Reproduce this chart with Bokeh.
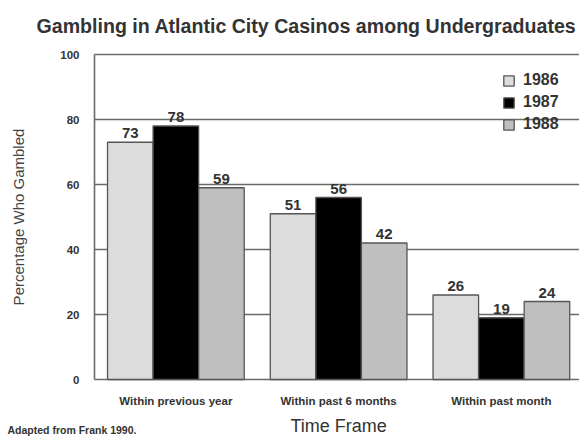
from bokeh.plotting import figure
from bokeh.models import Range1d, Legend, LegendItem, Label, ColumnDataSource, FixedTicker
from bokeh.core.properties import value
from bokeh.embed import file_html
from bokeh.resources import INLINE

categories = ["Within previous year", "Within past 6 months", "Within past month"]
years = ["1986", "1987", "1988"]
v1986 = [73, 51, 26]
v1987 = [78, 56, 19]
v1988 = [59, 42, 24]
y_ticks = [0, 20, 40, 60, 80, 100]

FONT = "Liberation Sans"
W, H = 579, 436
# plot-area geometry in pixels (frame covers whole canvas)
LEFT, TOP, BOTTOM, CAT_W = 94, 54, 379, 162.75
PX_PER_UNIT = (BOTTOM - TOP) / 100.0

xs = [i + 0.5 for i in range(len(categories))]   # category centres on the scale

p = figure(width=W, height=H,
           x_range=Range1d(-LEFT / CAT_W, (W - LEFT) / CAT_W),
           y_range=Range1d(-(H - BOTTOM) / PX_PER_UNIT, 100 + TOP / PX_PER_UNIT),
           output_backend="svg", toolbar_location=None, min_border=0)
p.outline_line_color = None
p.grid.visible = False

# horizontal grid lines at the tick values
p.segment(x0=[0] * len(y_ticks), x1=[len(categories)] * len(y_ticks), y0=y_ticks, y1=y_ticks,
          line_color="#6a6a6a", line_width=1.6)

fills = ["#dcdcdc", "#000000", "#bfbfbf"]
offsets = [-0.28, 0.0, 0.28]
series = [v1986, v1987, v1988]
renderers = []
for yr, vals, fc, off in zip(years, series, fills, offsets):
    src = ColumnDataSource(dict(x=[c + off for c in xs], top=vals, txt=[str(v) for v in vals]))
    r = p.vbar(x="x", top="top", bottom=0, width=0.28, source=src,
               fill_color=fc, line_color="#555555", line_width=1.3)
    renderers.append(r)
    p.text(x="x", y="top", text="txt", source=src, text_align="center",
           text_baseline="bottom", y_offset=-4,
           text_font=value(FONT), text_font_size="15px", text_font_style="bold",
           text_color="#333333")

legend = Legend(items=[LegendItem(label=yr, renderers=[r]) for yr, r in zip(years, renderers)],
                location=(502, 302), margin=0, padding=0, spacing=2,
                glyph_width=13, glyph_height=13, label_height=20, label_standoff=8,
                label_text_font=FONT, label_text_font_size="16px", label_text_font_style="bold",
                label_text_color="#333333", background_fill_alpha=0, border_line_alpha=0)
p.add_layout(legend)

# y axis
p.yaxis.fixed_location = 0
p.yaxis.bounds = (0, 100)
p.yaxis.ticker = FixedTicker(ticks=y_ticks)
p.yaxis.axis_line_color = "#6a6a6a"
p.yaxis.axis_line_width = 1.6
p.yaxis.major_tick_line_color = None
p.yaxis.minor_tick_line_color = None
p.yaxis.major_tick_out = 0
p.yaxis.major_tick_in = 0
p.yaxis.major_label_standoff = 15
p.yaxis.major_label_text_font = FONT
p.yaxis.major_label_text_font_size = "11.5px"
p.yaxis.major_label_text_font_style = "bold"
p.yaxis.major_label_text_color = "#333333"
p.yaxis.axis_label = "Percentage Who Gambled"
p.yaxis.axis_label_text_font = FONT
p.yaxis.axis_label_text_font_size = "15px"
p.yaxis.axis_label_text_font_style = "normal"
p.yaxis.axis_label_text_color = "#444444"
p.yaxis.axis_label_standoff = 30

# x axis (categories)
p.xaxis.fixed_location = 0
p.xaxis.ticker = FixedTicker(ticks=xs)
p.xaxis.major_label_overrides = {x: c for x, c in zip(xs, categories)}
p.xaxis.axis_line_color = None
p.xaxis.major_tick_line_color = None
p.xaxis.minor_tick_line_color = None
p.xaxis.major_tick_out = 0
p.xaxis.major_tick_in = 0
p.xaxis.major_label_standoff = 15
p.xaxis.major_label_text_font = FONT
p.xaxis.major_label_text_font_size = "11.5px"
p.xaxis.major_label_text_font_style = "bold"
p.xaxis.major_label_text_color = "#333333"

def px_x(px):
    return (px - LEFT) / CAT_W

def px_y(px):
    return (BOTTOM - px) / PX_PER_UNIT

p.add_layout(Label(x=px_x(36), y=px_y(25), text="Gambling in Atlantic City Casinos among Undergraduates",
                   text_baseline="middle", text_font=FONT, text_font_size="19.6px",
                   text_font_style="bold", text_color="#333333"))
p.add_layout(Label(x=len(categories) / 2, y=px_y(425), text="Time Frame", text_align="center",
                   text_baseline="middle", text_font=FONT, text_font_size="18px",
                   text_color="#333333"))
p.add_layout(Label(x=px_x(7), y=px_y(429.5), text="Adapted from Frank 1990.",
                   text_baseline="middle", text_font=FONT, text_font_size="10.5px",
                   text_font_style="bold", text_color="#333333"))

open("out.html", "w").write(file_html(p, INLINE))
